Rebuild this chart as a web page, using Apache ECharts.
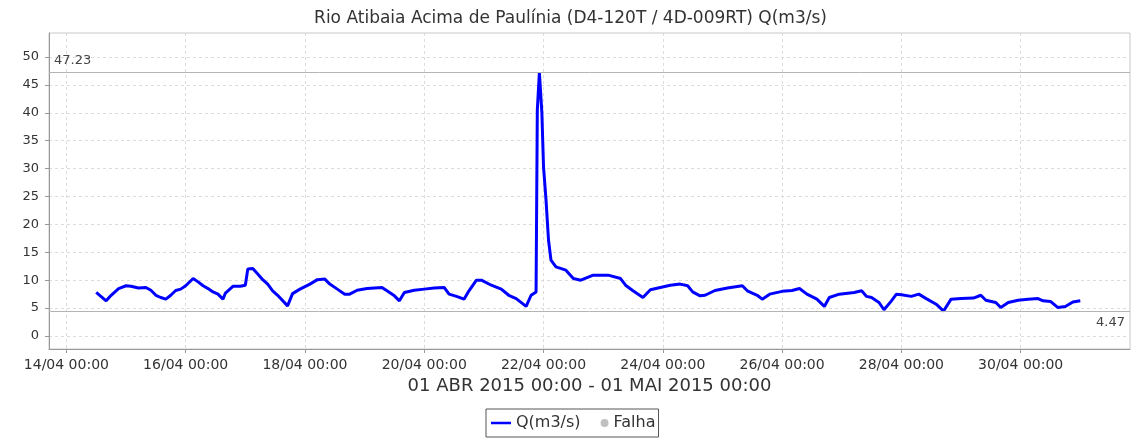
<!DOCTYPE html>
<html>
<head>
<meta charset="utf-8">
<script src="https://cdn.jsdelivr.net/npm/echarts@6/dist/echarts.min.js"></script>
<style>
  html, body { margin: 0; padding: 0; background: #fff; }
  #chart { width: 1141px; height: 441px; }
</style>
</head>
<body>
<div id="chart"></div>
<script>
// vazao Q(m3/s)
var times = [
  '2015-04-14 12:00', '2015-04-14 16:00', '2015-04-14 18:00', '2015-04-14 21:00',
  '2015-04-15 00:00', '2015-04-15 02:00', '2015-04-15 05:00', '2015-04-15 08:00', '2015-04-15 10:00', '2015-04-15 12:00',
  '2015-04-15 14:00', '2015-04-15 16:00', '2015-04-15 18:00', '2015-04-15 20:00', '2015-04-15 22:00',
  '2015-04-16 00:00', '2015-04-16 03:00', '2015-04-16 05:00', '2015-04-16 07:00', '2015-04-16 09:00', '2015-04-16 11:00',
  '2015-04-16 13:00', '2015-04-16 15:00', '2015-04-16 16:00', '2015-04-16 19:00', '2015-04-16 22:00',
  '2015-04-17 00:00', '2015-04-17 01:00', '2015-04-17 03:00', '2015-04-17 05:00', '2015-04-17 07:00', '2015-04-17 09:00',
  '2015-04-17 11:00', '2015-04-17 13:00', '2015-04-17 17:00', '2015-04-17 19:00', '2015-04-17 22:00',
  '2015-04-18 02:00', '2015-04-18 05:00', '2015-04-18 08:00', '2015-04-18 10:00', '2015-04-18 13:00', '2015-04-18 16:00',
  '2015-04-18 18:00', '2015-04-18 21:00',
  '2015-04-19 01:00', '2015-04-19 07:00', '2015-04-19 09:00', '2015-04-19 12:00', '2015-04-19 14:00', '2015-04-19 16:00',
  '2015-04-19 20:00',
  '2015-04-20 00:00', '2015-04-20 04:00', '2015-04-20 08:00', '2015-04-20 10:00', '2015-04-20 13:00', '2015-04-20 16:00',
  '2015-04-20 18:00', '2015-04-20 21:00', '2015-04-20 23:00',
  '2015-04-21 03:00', '2015-04-21 07:00', '2015-04-21 10:00', '2015-04-21 13:00', '2015-04-21 17:00', '2015-04-21 19:00',
  '2015-04-21 21:00', '2015-04-21 21:30', '2015-04-21 22:20', '2015-04-21 23:20',
  '2015-04-22 00:00', '2015-04-22 01:00', '2015-04-22 02:00', '2015-04-22 03:00', '2015-04-22 05:00', '2015-04-22 09:00',
  '2015-04-22 12:00', '2015-04-22 15:00', '2015-04-22 20:00',
  '2015-04-23 02:00', '2015-04-23 07:00', '2015-04-23 09:00', '2015-04-23 12:00', '2015-04-23 16:00', '2015-04-23 19:00',
  '2015-04-23 23:00',
  '2015-04-24 03:00', '2015-04-24 07:00', '2015-04-24 10:00', '2015-04-24 12:00', '2015-04-24 15:00', '2015-04-24 17:00',
  '2015-04-24 21:00',
  '2015-04-25 02:00', '2015-04-25 08:00', '2015-04-25 10:00', '2015-04-25 14:00', '2015-04-25 16:00', '2015-04-25 19:00',
  '2015-04-26 00:00', '2015-04-26 04:00', '2015-04-26 07:00', '2015-04-26 10:00', '2015-04-26 14:00', '2015-04-26 17:00',
  '2015-04-26 19:00', '2015-04-26 23:00',
  '2015-04-27 05:00', '2015-04-27 08:00', '2015-04-27 10:00', '2015-04-27 12:00', '2015-04-27 15:00', '2015-04-27 17:00',
  '2015-04-27 20:00', '2015-04-27 22:00',
  '2015-04-28 00:00', '2015-04-28 04:00', '2015-04-28 07:00', '2015-04-28 10:00', '2015-04-28 14:00', '2015-04-28 17:00',
  '2015-04-28 20:00',
  '2015-04-29 00:00', '2015-04-29 05:00', '2015-04-29 08:00', '2015-04-29 10:00', '2015-04-29 14:00', '2015-04-29 16:00',
  '2015-04-29 19:00', '2015-04-29 23:00',
  '2015-04-30 03:00', '2015-04-30 07:00', '2015-04-30 09:00', '2015-04-30 12:00', '2015-04-30 15:00', '2015-04-30 18:00',
  '2015-04-30 21:00', '2015-05-01 00:00'
];
var vazao = [
  7.8, 6.3, 7.3, 8.5,
  9.0, 8.9, 8.6, 8.7, 8.2, 7.3,
  6.9, 6.6, 7.3, 8.15, 8.4,
  9.0, 10.3, 9.7, 9.0, 8.5, 7.9,
  7.5, 6.6, 7.7, 8.9, 8.9,
  9.1, 12.0, 12.1, 11.1, 10.1, 9.3,
  8.1, 7.3, 5.4, 7.6, 8.4,
  9.3, 10.1, 10.2, 9.3, 8.4, 7.5,
  7.5, 8.2,
  8.5, 8.7, 8.1, 7.2, 6.3, 7.8,
  8.2,
  8.4, 8.6, 8.7, 7.5, 7.1, 6.6,
  8.1, 10.0, 10.0,
  9.1, 8.4, 7.3, 6.7, 5.3, 7.3,
  7.9, 40.5, 47.23, 40.0,
  30.3, 24.4, 17.2, 13.6, 12.4, 11.8,
  10.3, 10.0, 10.9,
  10.9, 10.3, 9.1, 8.1, 6.9, 8.3,
  8.7,
  9.1, 9.3, 9.0, 7.9, 7.2, 7.3,
  8.15,
  8.6, 9.0, 8.1, 7.3, 6.6, 7.5,
  8.0, 8.15, 8.5, 7.5, 6.6, 5.3,
  6.9, 7.5,
  7.8, 8.1, 7.1, 6.9, 6.0, 4.7,
  6.3, 7.5,
  7.4, 7.1, 7.5, 6.7, 5.7, 4.47,
  6.6,
  6.7, 6.8, 7.3, 6.4, 6.0, 5.1,
  6.0, 6.4,
  6.6, 6.7, 6.3, 6.2, 5.1, 5.3,
  6.1, 6.3
];
var xTicks = ['2015-04-14 00:00', '2015-04-16 00:00', '2015-04-18 00:00', '2015-04-20 00:00',
  '2015-04-22 00:00', '2015-04-24 00:00', '2015-04-26 00:00', '2015-04-28 00:00', '2015-04-30 00:00'];
var yTicks = [0, 5, 10, 15, 20, 25, 30, 35, 40, 45, 50];
var xRange = ['2015-04-13 17:00', '2015-05-01 20:00'];
var yRange = [-2.33, 54.3];

function toTime(s) {
    var p = s.split(/[- :]/);
    return new Date(+p[0], p[1] - 1, +p[2], +p[3], +p[4]).getTime();
}
function pad(n) { return n < 10 ? '0' + n : '' + n; }

var seriesData = times.map(function (t, i) { return [toTime(t), vazao[i]]; });
var font = 'DejaVu Sans';

var option = {
    animation: false,
    title: {
        text: 'Rio Atibaia Acima de Paulínia (D4-120T / 4D-009RT) Q(m3/s)',
        left: 'center',
        top: 5,
        textStyle: { fontSize: 17, fontWeight: 'normal', color: '#333', fontFamily: font }
    },
    grid: {
        left: 49, right: 11, top: 33, bottom: 92,
        show: true, borderColor: '#c8c8c8', borderWidth: 1,
        outerBoundsMode: 'none'
    },
    legend: {
        left: 486, top: 409,
        borderColor: '#555', borderWidth: 1, borderRadius: 0,
        padding: [6, 3, 6, 5],
        itemWidth: 20, itemHeight: 8, itemGap: 8,
        textStyle: { fontSize: 16, color: '#333', fontFamily: font },
        data: [
            { name: 'Q(m3/s)', icon: 'path://M0,0L0.01,0L0,0.01Z M0,2.75L20,2.75L20,5.25L0,5.25Z M0,8L0.01,8L0,7.99Z' },
            { name: 'Falha', icon: 'path://M0,4L0.01,4L0,4.01Z M12,4A4,4 0 1,1 20,4A4,4 0 1,1 12,4Z' }
        ]
    },
    xAxis: {
        type: 'value',
        min: toTime(xRange[0]),
        max: toTime(xRange[1]),
        name: '01 ABR 2015 00:00 - 01 MAI 2015 00:00',
        nameLocation: 'middle',
        nameGap: 26,
        nameTextStyle: { fontSize: 18, color: '#333', fontFamily: font },
        axisLine: { onZero: false, lineStyle: { color: '#999', width: 1 } },
        axisTick: { show: true, length: 4, lineStyle: { color: '#999' }, customValues: xTicks.map(toTime) },
        axisLabel: {
            customValues: xTicks.map(toTime),
            margin: 9,
            fontSize: 14, color: '#333', fontFamily: font,
            formatter: function (v) {
                var d = new Date(v);
                return pad(d.getDate()) + '/' + pad(d.getMonth() + 1) + ' ' + pad(d.getHours()) + ':' + pad(d.getMinutes());
            }
        },
        splitLine: { show: true, lineStyle: { color: '#dcdcdc', type: [3, 3], width: 1 } }
    },
    yAxis: {
        type: 'value',
        min: yRange[0],
        max: yRange[1],
        axisLine: { show: true, onZero: false, lineStyle: { color: '#999', width: 1 } },
        axisTick: { show: true, length: 4, lineStyle: { color: '#999' }, customValues: yTicks },
        axisLabel: { customValues: yTicks, margin: 10, fontSize: 13, color: '#333', fontFamily: font },
        splitLine: { show: true, lineStyle: { color: '#dcdcdc', type: [3, 3], width: 1 } }
    },
    series: [
        {
            name: 'Q(m3/s)',
            type: 'line',
            data: seriesData,
            showSymbol: false,
            symbol: 'none',
            color: '#0000ff',
            lineStyle: { color: '#0000ff', width: 3 },
            markLine: {
                silent: true,
                symbol: 'none',
                lineStyle: { color: '#b4b4b4', type: 'solid', width: 1 },
                label: {
                    color: '#444', fontSize: 13, fontFamily: font,
                    formatter: function (p) { return p.value.toFixed(2); }
                },
                data: [
                    { type: 'max', label: { position: 'insideStartTop' } },
                    { type: 'min', label: { position: 'insideEndBottom' } }
                ]
            }
        },
        {
            name: 'Falha',
            type: 'line',
            data: [],
            color: '#c0c0c0',
            itemStyle: { color: '#c0c0c0' }
        }
    ]
};

var myChart = echarts.init(document.getElementById('chart'));
myChart.setOption(option);
</script>
</body>
</html>
